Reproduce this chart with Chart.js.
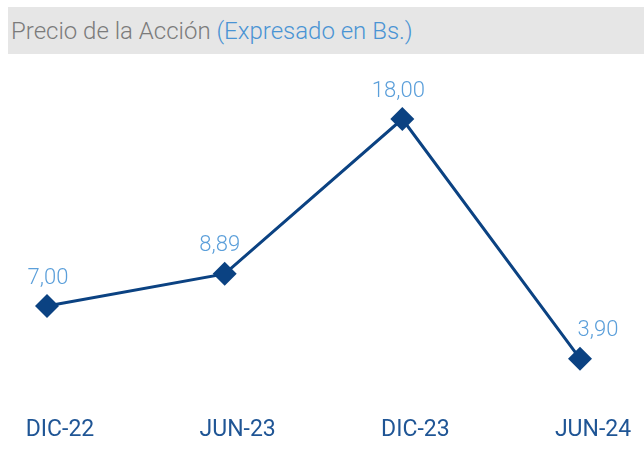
<!DOCTYPE html>
<html>
<head>
<meta charset="utf-8">
<script src="https://cdn.jsdelivr.net/npm/chart.js@4.4.1/dist/chart.umd.min.js"></script>
<style>
  html, body { margin: 0; padding: 0; background: #fff; }
  #wrap { position: relative; width: 644px; height: 450px; }
  #title {
    position: absolute; left: 8px; top: 7px; width: 636px; height: 47px;
    background: #e6e6e6; font-family: Roboto, "Open Sans", sans-serif; font-weight: 300;
    font-size: 24px; line-height: 49px; color: #7b7b7b; padding-left: 3px; box-sizing: border-box;
    white-space: nowrap;
  }
  #title span { color: #4a94d4; }
  #c { position: absolute; left: 0; top: 0; }
</style>
</head>
<body>
<div id="wrap">
  <canvas id="c" width="644" height="450"></canvas>
  <div id="title">Precio de la Acción <span>(Expresado en Bs.)</span></div>
</div>
<script>
const categories = ["DIC-22", "JUN-23", "DIC-23", "JUN-24"];
const prices = [7.00, 8.89, 18.00, 3.90];
const valueLabels = ["7,00", "8,89", "18,00", "3,90"];

const labelDx = [1, -5, -4, 18];

const dataLabelPlugin = {
  id: 'dataLabels',
  afterDatasetsDraw(chart) {
    const ctx = chart.ctx;
    const meta = chart.getDatasetMeta(0);
    ctx.save();
    ctx.font = '300 22px Roboto, sans-serif';
    ctx.fillStyle = '#5b9fda';
    ctx.textAlign = 'center';
    ctx.textBaseline = 'middle';
    meta.data.forEach((pt, i) => {
      ctx.fillText(valueLabels[i], pt.x + labelDx[i], pt.y - 28);
    });
    ctx.restore();
  }
};

new Chart(document.getElementById('c'), {
  type: 'line',
  data: {
    labels: categories,
    datasets: [{
      data: prices,
      borderColor: '#0b4282',
      borderWidth: 3,
      backgroundColor: '#0b4282',
      pointStyle: 'rectRot',
      pointRadius: 12,
      pointHoverRadius: 12,
      pointBorderWidth: 0,
      tension: 0,
      fill: false
    }]
  },
  options: {
    responsive: false,
    animation: false,
    events: [],
    layout: { padding: { left: 47, right: 64, top: 85, bottom: 0 } },
    plugins: { legend: { display: false }, tooltip: { enabled: false }, title: { display: false } },
    scales: {
      x: {
        offset: false,
        grid: { display: false },
        border: { display: false },
        afterFit(scale) { scale.height = 76; scale.paddingLeft = 0; scale.paddingRight = 0; },
        ticks: {
          color: '#1f5595',
          font: { family: 'Roboto, sans-serif', size: 23, weight: '400' },
          padding: 34,
          labelOffset: 13,
          maxRotation: 0,
          autoSkip: false
        }
      },
      y: {
        display: false,
        min: 3,
        max: 20
      }
    }
  },
  plugins: [dataLabelPlugin]
});
</script>
</body>
</html>
